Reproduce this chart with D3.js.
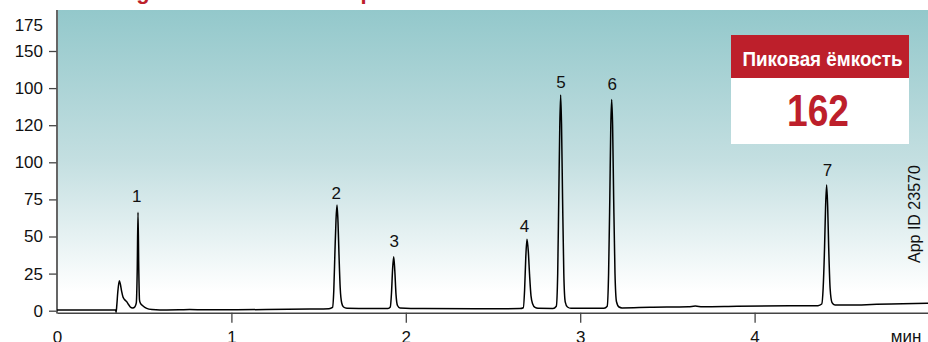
<!DOCTYPE html>
<html>
<head>
<meta charset="utf-8">
<script src="https://cdn.jsdelivr.net/npm/d3@7"></script>
<style>
  html, body { margin: 0; padding: 0; background: #fff; }
  svg { display: block; }
</style>
</head>
<body>
<script>
// trace (time in min, signal)
const traceTime = [0, 0.20, 0.3366, 0.3389, 0.343, 0.3486, 0.3572, 0.363, 0.371, 0.3784, 0.3859, 0.3997, 0.41, 0.4186, 0.434, 0.447,
  0.4547, 0.46, 0.4645, 0.469, 0.473, 0.4788, 0.4931, 0.5143, 0.5447, 0.59, 0.70, 0.76, 0.85, 1.0, 1.2, 1.45,
  1.5596, 1.5797, 1.5872, 1.594, 1.5998, 1.6055, 1.6112, 1.617, 1.6239, 1.6325, 1.6428, 1.6628, 1.80,
  1.8979, 1.9111, 1.918, 1.9243, 1.9306, 1.9369, 1.9438, 1.9524, 1.9667, 2.10, 2.40,
  2.6548, 2.6737, 2.6812, 2.688, 2.6949, 2.7024, 2.7098, 2.7179, 2.7276, 2.7408, 2.758,
  2.844, 2.863, 2.871, 2.877, 2.883, 2.888, 2.893, 2.899, 2.906, 2.914, 2.927, 2.947, 3.05,
  3.1365, 3.1548, 3.1628, 3.1697, 3.1755, 3.1806, 3.1858, 3.192, 3.1995, 3.2081, 3.2225, 3.2397,
  3.4, 3.62, 3.66, 3.70, 3.9, 4.2,
  4.3635, 4.385, 4.393, 4.401, 4.407, 4.413, 4.419, 4.425, 4.433, 4.444, 4.461, 4.55, 4.7, 4.85, 5.0]
const traceSignal = [0.5, 0.5, 0.47, -1.1, 3.8, 12.6, 20.2, 18, 12.8, 9.2, 7.7, 6.1, 4.2, 2.7, 1.8, 2.7,
  5.2, 27, 66.3, 27, 7.2, 4.9, 3.2, 1.6, 0.8, 0.5, 0.6, 0.8, 0.6, 0.6, 0.8, 1.1,
  1.3, 2.2, 14, 41, 61, 71.2, 59.8, 37.5, 15.3, 5.2, 2.5, 1.6, 1.4,
  1.5, 2.5, 12, 28, 36.4, 27, 11, 3.5, 1.8, 1.4, 1.3,
  1.4, 2, 14, 36, 48.1, 40, 24, 10, 4.5, 2.2, 1.6,
  1.5, 3, 25, 75, 125, 145.4, 125, 75, 25, 6, 2.5, 1.6, 1.6,
  1.7, 3, 25, 75, 125, 142.4, 125, 75, 25, 6, 2.5, 1.9,
  2.3, 2.6, 3.1, 2.7, 3.0, 3.3,
  3.4, 4.5, 15, 42, 70, 84.7, 70, 42, 15, 5.5, 3.8, 3.8, 4.3, 4.6, 5.0]

const peakNames = ['1', '2', '3', '4', '5', '6', '7']
const peakTimes = [0.457, 1.601, 1.933, 2.68, 2.89, 3.183, 4.418]
const peakLabelLevel = [73, 75, 43, 53, 150, 149, 91]

const yTicks = [0, 25, 50, 75, 100, 125, 150, 175, 200]
const yTickLabels = ['0', '25', '50', '75', '100', '120', '100', '150', '175']
const xTicks = [0, 1, 2, 3, 4]
const xUnit = 'мин'

const boxTitle = 'Пиковая ёмкость'
const boxValue = '162'
const appId = 'App ID 23570'
const titleText = 'Колонка Agilent AdvanceBio Peptide'

const W = 928, H = 342
const red = '#bd1f2b'

const svg = d3.select('body').append('svg').attr('width', W).attr('height', H)

const x = d3.scaleLinear().domain([0, 5]).range([57, 929])
const y = d3.scaleLinear().domain([0, 200]).range([310.7, 13.9])

// background gradient
const grad = svg.append('defs').append('linearGradient')
  .attr('id', 'bg').attr('x1', 0).attr('y1', 0).attr('x2', 0).attr('y2', 1)
grad.append('stop').attr('offset', '0%').attr('stop-color', '#93c8cb')
grad.append('stop').attr('offset', '50%').attr('stop-color', '#c4dfe1')
grad.append('stop').attr('offset', '93%').attr('stop-color', '#ffffff')

svg.append('rect')
  .attr('x', 58).attr('y', 10)
  .attr('width', W - 58).attr('height', 303)
  .attr('fill', 'url(#bg)')

// title, mostly above the picture
const title = svg.append('text')
  .attr('x', 0).attr('y', -1)
  .attr('font-family', 'Liberation Sans, Arial, sans-serif')
  .attr('font-weight', 'bold').attr('font-size', 22)
  .attr('fill', red)
  .text(titleText)
const gi = titleText.indexOf('g')
const gBox = title.node().getExtentOfChar(gi)
title.attr('x', 143 - (gBox.x + gBox.width / 2))

// y axis
const yAxis = svg.append('g')
  .attr('transform', 'translate(57,0)')
  .call(d3.axisLeft(y).tickValues(yTicks).tickFormat((d, i) => yTickLabels[i]).tickSize(8).tickPadding(6))
yAxis.select('.domain').remove()
yAxis.selectAll('line').attr('stroke', '#444').attr('stroke-width', 1.3)
yAxis.selectAll('text')
  .attr('font-family', 'Liberation Sans, Arial, sans-serif')
  .attr('font-size', 17).attr('fill', '#111')
yAxis.selectAll('.tick').filter(d => d === 200).select('line').remove()
yAxis.selectAll('.tick').filter(d => d === 200).select('text').attr('dy', '1.0em')

svg.append('line')
  .attr('x1', 57).attr('x2', 57).attr('y1', 10).attr('y2', 313.5)
  .attr('stroke', '#555').attr('stroke-width', 1.8)

// x axis
const xAxis = svg.append('g')
  .attr('transform', 'translate(0,' + (y(0) + 2) + ')')
  .call(d3.axisBottom(x).tickValues(xTicks).tickFormat(d3.format('d')).tickSize(10).tickPadding(8).tickSizeOuter(0))
xAxis.select('.domain').attr('stroke', '#444').attr('stroke-width', 1.5)
xAxis.selectAll('line').attr('stroke', '#444').attr('stroke-width', 1.3)
xAxis.selectAll('.tick').filter(d => d === 0).select('line').remove()
xAxis.selectAll('text')
  .attr('font-family', 'Liberation Sans, Arial, sans-serif')
  .attr('font-size', 17).attr('fill', '#111')

svg.append('text')
  .attr('x', 906).attr('y', 342)
  .attr('text-anchor', 'middle')
  .attr('font-family', 'Liberation Sans, Arial, sans-serif')
  .attr('font-size', 17).attr('fill', '#111')
  .text(xUnit)

// chromatogram
const trace = traceTime.map((t, i) => [t, traceSignal[i]])
svg.append('path')
  .datum(trace)
  .attr('fill', 'none')
  .attr('stroke', '#000')
  .attr('stroke-width', 1.5)
  .attr('stroke-linejoin', 'round')
  .attr('d', d3.line().x(d => x(d[0])).y(d => y(d[1])).curve(d3.curveMonotoneX))

// peak numbers
svg.append('g').selectAll('text')
  .data(peakNames)
  .join('text')
  .attr('x', (d, i) => x(peakTimes[i]))
  .attr('y', (d, i) => y(peakLabelLevel[i]))
  .attr('text-anchor', 'middle')
  .attr('font-family', 'Liberation Sans, Arial, sans-serif')
  .attr('font-size', 17).attr('fill', '#111')
  .text(d => d)

// peak capacity box
const box = svg.append('g')
box.append('rect').attr('x', 731).attr('y', 35).attr('width', 178).attr('height', 43).attr('fill', red)
box.append('rect').attr('x', 731).attr('y', 78).attr('width', 178).attr('height', 66).attr('fill', '#fff')
box.append('text')
  .attr('x', 742.5).attr('y', 66)
  .attr('font-family', 'Liberation Sans Narrow, Arial Narrow, Liberation Sans, sans-serif')
  .attr('font-weight', 'bold').attr('font-size', 21)
  .attr('textLength', 160).attr('lengthAdjust', 'spacingAndGlyphs')
  .attr('fill', '#fff')
  .text(boxTitle)
box.append('text')
  .attr('x', 787).attr('y', 126)
  .attr('font-family', 'Liberation Sans Narrow, Arial Narrow, Liberation Sans, sans-serif')
  .attr('font-weight', 'bold').attr('font-size', 44)
  .attr('textLength', 62).attr('lengthAdjust', 'spacingAndGlyphs')
  .attr('fill', red)
  .text(boxValue)

// app id, rotated
svg.append('text')
  .attr('transform', 'translate(919.5,263) rotate(-90)')
  .attr('font-family', 'Liberation Sans, Arial, sans-serif')
  .attr('font-size', 16).attr('fill', '#111')
  .text(appId)
</script>
</body>
</html>
